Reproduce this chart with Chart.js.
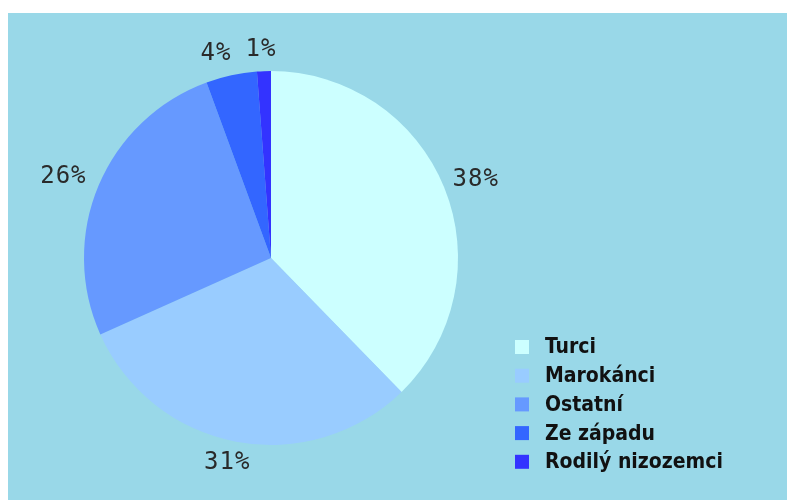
<!DOCTYPE html>
<html>
<head>
<meta charset="utf-8">
<script src="https://cdn.jsdelivr.net/npm/chart.js@4.4.0/dist/chart.umd.min.js"></script>
<style>
  html, body { margin: 0; padding: 0; background: #ffffff; }
  #wrap { position: absolute; left: 8px; top: 13px; width: 779px; height: 487px; background: #99d8e8; }
</style>
</head>
<body>
<div id="wrap"><canvas id="chart" width="779" height="487"></canvas></div>
<script>
const categories = ['Turci', 'Marokánci', 'Ostatní', 'Ze západu', 'Rodilý nizozemci'];
const shares = [37.7, 30.6, 26.1, 4.4, 1.2];
const sliceColors = ['#ccffff', '#99ccff', '#6699ff', '#3366ff', '#3333ff'];

// percent labels outside each slice, nudged apart when they crowd
const outsideLabels = {
  id: 'outsideLabels',
  afterDatasetsDraw(chart) {
    const ctx = chart.ctx;
    const meta = chart.getDatasetMeta(0);
    const total = shares.reduce((a, b) => a + b, 0);
    ctx.save();
    ctx.font = '24px "DejaVu Sans Mono"';
    ctx.letterSpacing = '1px';
    ctx.fillStyle = '#2a2a2a';
    ctx.textAlign = 'center';
    ctx.textBaseline = 'middle';
    const boxes = meta.data.map((arc, i) => {
      const text = Math.round(shares[i] / total * 100) + '%';
      const w = ctx.measureText(text).width;
      const h = 17;
      const mid = (arc.startAngle + arc.endAngle) / 2;
      const cx = Math.cos(mid), cy = Math.sin(mid);
      const r = arc.outerRadius + 13;
      return {
        text, w,
        x: arc.x + cx * r + cx * w / 2,
        y: arc.y + cy * r + cy * h / 2
      };
    });
    // push crowded neighbours apart (earlier label moves left)
    for (let i = boxes.length - 1; i > 0; i--) {
      const a = boxes[i - 1], b = boxes[i];
      if (Math.abs(a.y - b.y) < 20) {
        const need = a.w / 2 + b.w / 2 + 14;
        if (b.x - a.x < need) a.x = b.x - need;
      }
    }
    boxes.forEach(b => ctx.fillText(b.text, b.x - 2, b.y));
    ctx.restore();
  }
};

// legend in the lower right corner
const cornerLegend = {
  id: 'cornerLegend',
  afterDraw(chart) {
    const ctx = chart.ctx;
    ctx.save();
    ctx.font = 'bold 21px "DejaVu Sans Condensed", "DejaVu Sans"';
    ctx.textBaseline = 'middle';
    categories.forEach((name, i) => {
      const y = 334 + i * 28.7;
      ctx.fillStyle = sliceColors[i];
      ctx.fillRect(507, y - 7, 14, 14);
      ctx.fillStyle = '#111111';
      ctx.fillText(name, 537, y + 1);
    });
    ctx.restore();
  }
};

new Chart(document.getElementById('chart'), {
  type: 'pie',
  data: {
    labels: categories,
    datasets: [{
      data: shares,
      backgroundColor: sliceColors,
      borderWidth: 0
    }]
  },
  options: {
    responsive: false,
    animation: false,
    layout: { padding: { top: 58, bottom: 55, left: 76, right: 329 } },
    plugins: {
      legend: { display: false },
      tooltip: { enabled: false }
    }
  },
  plugins: [outsideLabels, cornerLegend]
});
</script>
</body>
</html>
